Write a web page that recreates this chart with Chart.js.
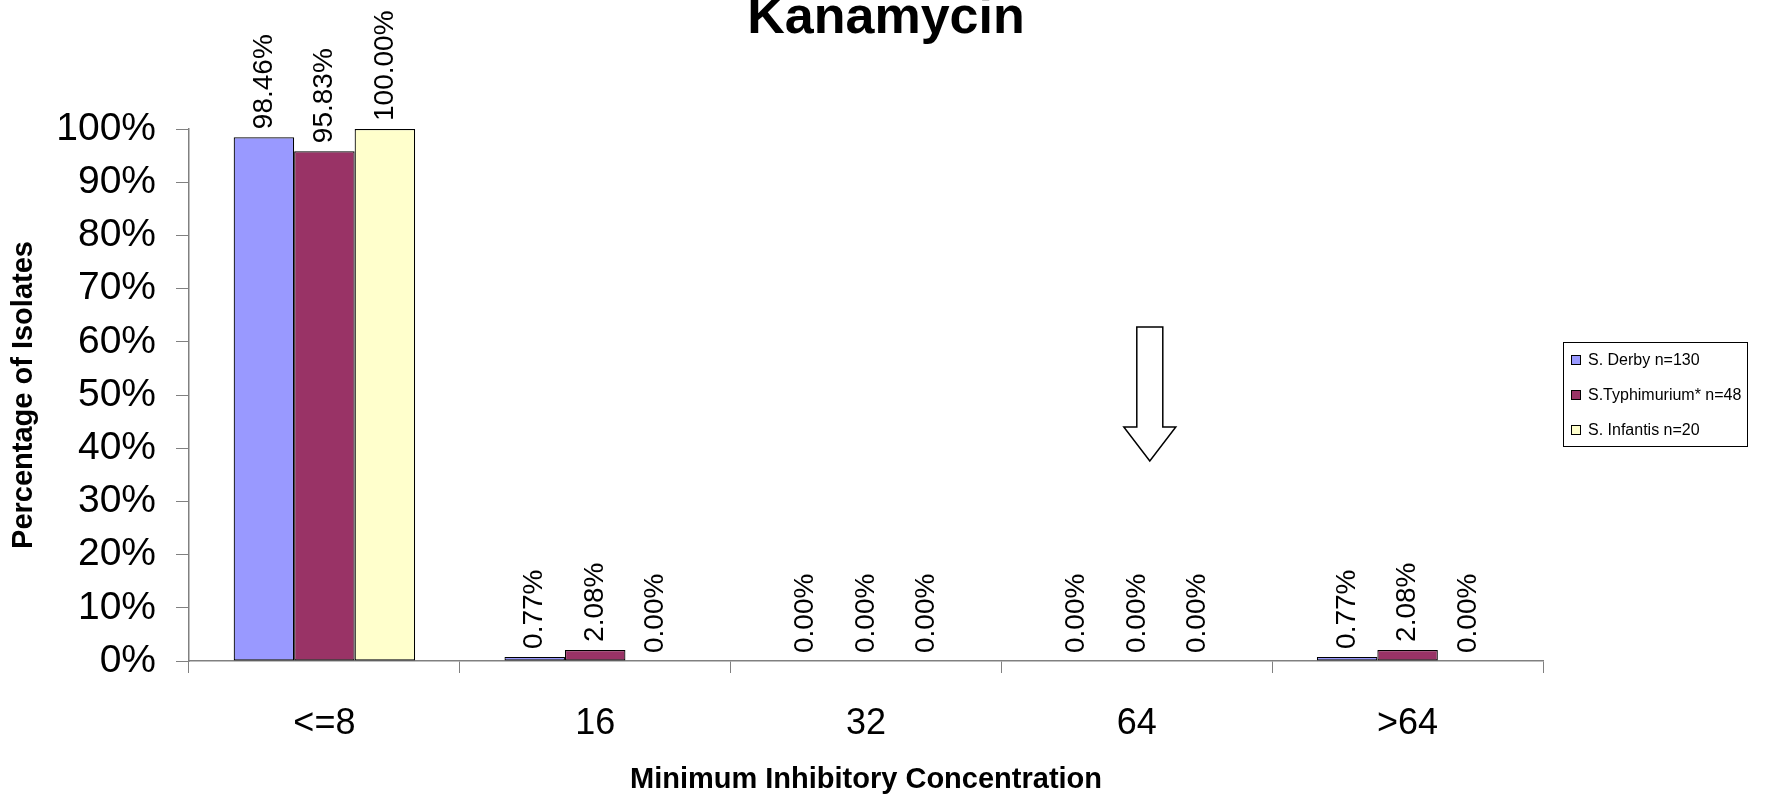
<!DOCTYPE html>
<html>
<head>
<meta charset="utf-8">
<title>Kanamycin</title>
<script src="https://cdn.jsdelivr.net/npm/chart.js@4.4.1/dist/chart.umd.min.js"></script>
<style>
	body { margin: 0; background: #fff; }
	#wrap { width: 1788px; height: 797px; position: relative; }
</style>
</head>
<body>
<div id="wrap"><canvas id="mycanvas"></canvas></div>
<script>
// MIC categories and % of isolates per serotype
var categorias = ["<=8", "16", "32", "64", ">64"];
var nomes = ["S. Derby n=130", "S.Typhimurium* n=48", "S. Infantis n=20"];
var derby = [98.46, 0.77, 0, 0, 0.77];
var typhimurium = [95.83, 2.08, 0, 0, 2.08];
var infantis = [100, 0, 0, 0, 0];
var yTicks = [0, 10, 20, 30, 40, 50, 60, 70, 80, 90, 100];
var titulo = "Kanamycin";

var cores = ["#9999FF", "#993366", "#FFFFCC"];
var fonte = "'Liberation Sans', Arial, sans-serif";

// title, drawn by hand so it centres on the whole page (legend area included)
var tituloPlugin = {
	id: 'tituloPlugin',
	afterDraw: function(chart) {
		var ctx = chart.ctx;
		ctx.save();
		ctx.font = "bold 52px " + fonte;
		ctx.fillStyle = "#000";
		ctx.textAlign = "center";
		ctx.textBaseline = "alphabetic";
		ctx.fillText(titulo, chart.width / 2 - 8, 33);
		ctx.restore();
	}
};

// rotated value labels over each bar
var rotulos = {
	id: 'rotulos',
	afterDatasetsDraw: function(chart) {
		var ctx = chart.ctx;
		ctx.save();
		ctx.font = "28px " + fonte;
		ctx.fillStyle = "#000";
		ctx.textAlign = "left";
		ctx.textBaseline = "middle";
		chart.data.datasets.forEach(function(ds, i) {
			var meta = chart.getDatasetMeta(i);
			meta.data.forEach(function(bar, j) {
				ctx.save();
				ctx.translate(bar.x, bar.y - 8);
				ctx.rotate(-Math.PI / 2);
				ctx.fillText(ds.data[j].toFixed(2) + "%", 0, 0);
				ctx.restore();
			});
		});
		ctx.restore();
	}
};

// breakpoint arrow over the 64 category
var seta = {
	id: 'seta',
	afterDatasetsDraw: function(chart) {
		var ctx = chart.ctx;
		var xs = chart.scales.x, ys = chart.scales.y;
		var cx = xs.getPixelForValue(3) + 13;
		var topo = ys.getPixelForValue(62.8);
		var base = ys.getPixelForValue(44);
		var ponta = ys.getPixelForValue(37.6);
		ctx.save();
		ctx.beginPath();
		ctx.moveTo(cx - 13, topo);
		ctx.lineTo(cx + 13, topo);
		ctx.lineTo(cx + 13, base);
		ctx.lineTo(cx + 26, base);
		ctx.lineTo(cx, ponta);
		ctx.lineTo(cx - 26, base);
		ctx.lineTo(cx - 13, base);
		ctx.closePath();
		ctx.fillStyle = "#fff";
		ctx.fill();
		ctx.lineWidth = 1.5;
		ctx.strokeStyle = "#000";
		ctx.stroke();
		ctx.restore();
	}
};

// boxed legend on the right
var legenda = {
	id: 'legenda',
	afterDraw: function(chart) {
		var ctx = chart.ctx;
		var x0 = 1563, y0 = 342, w = 184, h = 104;
		ctx.save();
		ctx.fillStyle = "#fff";
		ctx.fillRect(x0, y0, w, h);
		ctx.lineWidth = 1;
		ctx.strokeStyle = "#000";
		ctx.strokeRect(x0 + 0.5, y0 + 0.5, w, h);
		ctx.font = "16px " + fonte;
		ctx.textBaseline = "middle";
		ctx.textAlign = "left";
		chart.data.datasets.forEach(function(ds, i) {
			var y = y0 + 18 + i * 35;
			ctx.fillStyle = ds.backgroundColor;
			ctx.fillRect(x0 + 8, y - 5, 10, 10);
			ctx.strokeRect(x0 + 8.5, y - 4.5, 9, 9);
			ctx.fillStyle = "#000";
			ctx.fillText(ds.label, x0 + 25, y + 1);
		});
		ctx.restore();
	}
};

var chartdata = {
	labels: categorias,
	datasets: [
		{ label: nomes[0], data: derby, backgroundColor: cores[0] },
		{ label: nomes[1], data: typhimurium, backgroundColor: cores[1] },
		{ label: nomes[2], data: infantis, backgroundColor: cores[2] }
	]
};
chartdata.datasets.forEach(function(ds) {
	ds.borderColor = "#000";
	ds.borderWidth = 1.2;
	ds.borderSkipped = false;
	ds.categoryPercentage = 0.67;
	ds.barPercentage = 1;
});

var options = {
	responsive: true,
	maintainAspectRatio: false,
	animation: false,
	layout: { padding: { top: 129, right: 245, bottom: 0, left: 0 } },
	plugins: {
		legend: { display: false },
		tooltip: { enabled: false },
		title: { display: false }
	},
	scales: {
		x: {
			grid: { drawOnChartArea: false, drawTicks: true, tickLength: 12, color: "#808080", lineWidth: 1 },
			border: { display: true, color: "#808080", width: 1.5 },
			ticks: { color: "#000", padding: 29, font: { family: fonte, size: 36 }, maxRotation: 0 },
			title: {
				display: true,
				text: "Minimum Inhibitory Concentration",
				color: "#000",
				font: { family: fonte, size: 29, weight: "bold", lineHeight: 1.2 },
				padding: { top: 0, bottom: 0 }
			},
			afterFit: function(scale) { scale.height = 136; }
		},
		y: {
			min: 0,
			max: 100,
			grid: { drawOnChartArea: false, drawTicks: true, tickLength: 13, color: "#808080", lineWidth: 1 },
			border: { display: true, color: "#808080", width: 1.5 },
			afterBuildTicks: function(scale) {
				scale.ticks = yTicks.map(function(v) { return { value: v }; });
			},
			ticks: {
				color: "#000",
				padding: 20,
				font: { family: fonte, size: 39 },
				callback: function(v) { return v + "%"; }
			},
			title: {
				display: true,
				text: "Percentage of Isolates",
				color: "#000",
				font: { family: fonte, size: 29, weight: "bold", lineHeight: 1.2 },
				padding: { top: 7, bottom: 0 }
			},
			afterFit: function(scale) { scale.width = 189; }
		}
	}
};

var ctx = document.getElementById("mycanvas");
var grafico = new Chart(ctx, {
	type: 'bar',
	data: chartdata,
	options: options,
	plugins: [rotulos, seta, legenda, tituloPlugin]
});
</script>
</body>
</html>
